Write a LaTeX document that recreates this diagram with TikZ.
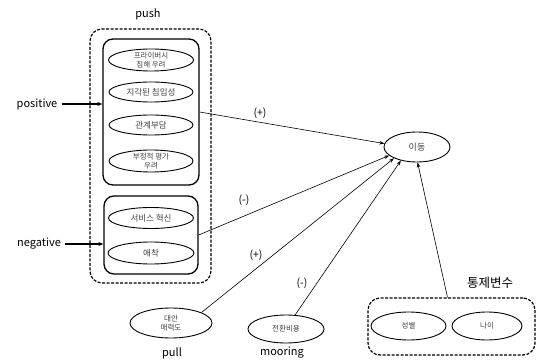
\documentclass[tikz,border=0pt]{standalone}
\usepackage{fontspec}
\setmainfont{Noto Sans CJK KR}
\usetikzlibrary{shapes.geometric,arrows.meta}
\begin{document}
\begin{tikzpicture}[x=1pt,y=-1pt,
 oval/.style={ellipse,draw,line width=0.9pt,inner sep=-4pt,font=\fontsize{8.5}{10}\selectfont,align=center,text=black!75},
 sov/.style={oval,font=\fontsize{7.5}{8.5}\selectfont},
 tov/.style={oval,inner sep=-6pt,font=\fontsize{7.5}{8.5}\selectfont},
 grp/.style={draw,line width=1.3pt,rounded corners=10pt,inner sep=0pt},
 dgrp/.style={draw,line width=1.2pt,dash pattern=on 3pt off 1.5pt,rounded corners=12pt,inner sep=0pt},
 lbl/.style={font=\fontsize{11}{12}\selectfont,inner sep=1pt},
 sgn/.style={font=\fontsize{10.5}{11}\selectfont,inner sep=1pt},
 arr/.style={-{Stealth[length=5pt,width=3.5pt]},line width=0.6pt},
 barr/.style={-{Stealth[length=5pt,width=4pt]},line width=1.1pt}]
\useasboundingbox (0,0) rectangle (537,363);
% push group
\node[dgrp,minimum width=121pt,minimum height=254pt] (push) at (150.5,156) {};
\node[grp,minimum width=96pt,minimum height=146pt] (box1) at (151,112) {};
\node[grp,minimum width=94pt,minimum height=78pt] (box2) at (151,235) {};
\node[lbl] (pushl) at (148,14) {push};
\node[tov,minimum width=85pt,minimum height=22pt] (e1) at (151,60) {프라이버시\\침해 우려};
\node[oval,minimum width=84pt,minimum height=20pt] (e2) at (151,92) {지각된 침입성};
\node[oval,minimum width=84pt,minimum height=20pt] (e3) at (151,125) {관계부담};
\node[tov,minimum width=84pt,minimum height=22pt] (e4) at (151,161) {부정적 평가\\우려};
\node[oval,minimum width=85pt,minimum height=21pt] (e5) at (151,218) {서비스 혁신};
\node[oval,minimum width=86pt,minimum height=22pt] (e6) at (151,253) {애착};
% side labels
\node[lbl] (pos) at (37,104) {positive};
\node[lbl] (neg) at (39,244) {negative};
\draw[barr] (pos.east) ++(3pt,0) -- (pos.east -| box1.west);
\draw[barr] (neg.east) ++(3pt,0) -- (neg.east -| box2.west);
% outcome
\node[oval,minimum width=66pt,minimum height=30pt,font=\fontsize{9}{10}\selectfont] (ido) at (417,147) {이동};
% pull, mooring
\node[sov,minimum width=82pt,minimum height=30pt] (alt) at (171,323) {대안\\매력도};
\node[lbl] (pulll) at (172,353) {pull};
\node[sov,minimum width=76pt,minimum height=28pt] (sw) at (286,329) {전환비용};
\node[lbl] (moorl) at (282,353) {mooring};
% control
\node[dgrp,minimum width=167pt,minimum height=57pt] (ctrl) at (451.5,326.5) {};
\node[lbl,font=\fontsize{12.5}{13}\selectfont] (ctrll) at (490,283) {통제변수};
\node[sov,minimum width=75pt,minimum height=28pt] (gen) at (408.5,326) {성별};
\node[sov,minimum width=70pt,minimum height=28pt] (age) at (487,326) {나이};
% arrows
\draw[arr] (box1.east) -- (ido.174);
\draw[arr] (box2.east) -- (ido.197);
\draw[arr] (alt.19) -- (ido.206);
\draw[arr] (sw.57) -- (ido.220);
\draw[arr] (ctrl.north) ++(-4pt,0) -- (ido.272);
% signs
\node[sgn] (s1) at (260,113) {(+)};
\node[sgn] (s2) at (244,200) {(-)};
\node[sgn] (s3) at (256,255) {(+)};
\node[sgn] (s4) at (302,283) {(-)};
\end{tikzpicture}
\end{document}
